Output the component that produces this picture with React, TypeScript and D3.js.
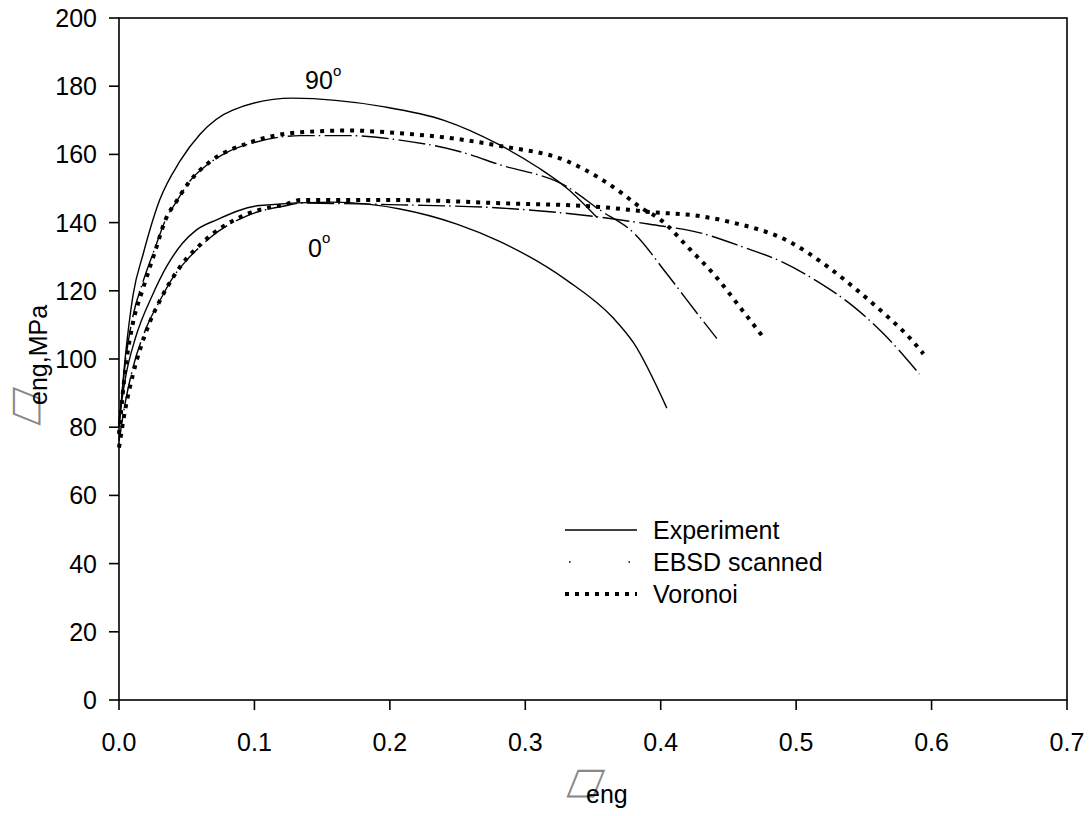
import React from 'react'
import * as d3 from 'd3'

// axis ticks
const xTicks = [0, 0.1, 0.2, 0.3, 0.4, 0.5, 0.6, 0.7]
const yTicks = [0, 20, 40, 60, 80, 100, 120, 140, 160, 180, 200]

// [strain, stress MPa]
const exp90: [number, number][] = [
  [0, 80], [0.004, 98], [0.0105, 119], [0.018, 131], [0.03, 146.6], [0.045, 158],
  [0.06, 166], [0.084, 173], [0.128, 176.5], [0.195, 174], [0.24, 170], [0.28, 163],
  [0.31, 156], [0.331, 150], [0.353, 141.5]
]
const exp0: [number, number][] = [
  [0, 82], [0.005, 95], [0.012, 106], [0.025, 119], [0.035, 127], [0.047, 134],
  [0.057, 137.8], [0.072, 140.8], [0.104, 145], [0.158, 146], [0.2075, 144],
  [0.25, 139.5], [0.281, 134.5], [0.331, 123], [0.365, 112], [0.38, 104.7], [0.4045, 85.6]
]
const ebsd90: [number, number][] = [
  [0, 80], [0.005, 100], [0.01, 112], [0.018, 123], [0.027, 133], [0.034, 140.5],
  [0.043, 146.5], [0.052, 152], [0.067, 157.5], [0.08, 160.7], [0.1, 163.5],
  [0.134, 165.5], [0.17, 165.5], [0.2075, 164.2], [0.25, 161], [0.281, 157],
  [0.331, 150.5], [0.355, 143.7], [0.38, 137], [0.4045, 125], [0.429, 112.3], [0.4415, 106]
]
const vor90: [number, number][] = [
  [0, 78], [0.005, 98], [0.01, 110], [0.018, 121], [0.027, 132], [0.034, 140.5],
  [0.043, 146.6], [0.052, 152], [0.067, 157.8], [0.0945, 163.2], [0.134, 166.5],
  [0.17, 167], [0.2075, 166.2], [0.25, 164.5], [0.281, 162.5], [0.331, 158],
  [0.355, 153], [0.37, 149], [0.385, 144.5], [0.4, 140.8], [0.4215, 132.2],
  [0.4415, 123.8], [0.4585, 115.2], [0.4755, 106.5]
]
const ebsd0: [number, number][] = [
  [0, 76], [0.005, 88], [0.01, 97], [0.02, 109], [0.03, 117], [0.04, 124], [0.05, 129],
  [0.06, 133], [0.067, 135.5], [0.0945, 142], [0.124, 145], [0.134, 145.7],
  [0.2075, 145.2], [0.281, 144.3], [0.355, 141.6], [0.392, 139.5], [0.429, 137],
  [0.461, 132.8], [0.49, 128.4], [0.515, 122.9], [0.542, 115.5], [0.564, 107.6], [0.591, 95.6]
]
const vor0: [number, number][] = [
  [0, 74], [0.005, 86], [0.01, 95], [0.02, 108], [0.03, 117], [0.04, 124], [0.05, 129.5],
  [0.06, 133.5], [0.067, 136], [0.0945, 142.5], [0.124, 145.5], [0.134, 146.6],
  [0.2075, 146.6], [0.281, 145.7], [0.355, 144.6], [0.392, 143.1], [0.429, 141.9],
  [0.451, 140.2], [0.4955, 134.3], [0.5235, 127], [0.545, 120.2], [0.567, 112.6],
  [0.582, 107], [0.594, 101.5]
]

const legendNames = ['Experiment', 'EBSD scanned', 'Voronoi']

const styles = {
  Experiment: { width: 1.4, dash: 'none' },
  'EBSD scanned': { width: 1.4, dash: '27 4 1.5 4.5' },
  Voronoi: { width: 4, dash: '4 6' }
}

const series = [
  { kind: 'Experiment', data: exp90 },
  { kind: 'Experiment', data: exp0 },
  { kind: 'EBSD scanned', data: ebsd90 },
  { kind: 'EBSD scanned', data: ebsd0 },
  { kind: 'Voronoi', data: vor90 },
  { kind: 'Voronoi', data: vor0 }
]

const W = 1089
const H = 816
const left = 119, right = 1067, top = 18, bottom = 700
const font = '"Liberation Sans", Arial, sans-serif'

export default function App() {
  const x = d3.scaleLinear().domain([0, 0.7]).range([left, right])
  const y = d3.scaleLinear().domain([0, 200]).range([bottom, top])
  const line = d3.line<[number, number]>()
    .x(d => x(d[0]))
    .y(d => y(d[1]))
    .curve(d3.curveMonotoneX)

  return (
    <svg width={W} height={H} style={{ position: 'absolute', left: 0, top: 0, background: '#fff' }}
      fontFamily={font} fontSize={25}>
      <rect x={left} y={top} width={right - left} height={bottom - top}
        fill="none" stroke="#000" strokeWidth={1.6} />

      {yTicks.map(t => (
        <g key={'y' + t}>
          <line x1={left - 10} x2={left} y1={y(t)} y2={y(t)} stroke="#000" strokeWidth={1.6} />
          <text x={left - 22} y={y(t)} dy="0.36em" textAnchor="end">{t}</text>
        </g>
      ))}
      {xTicks.map(t => (
        <g key={'x' + t}>
          <line x1={x(t)} x2={x(t)} y1={bottom} y2={bottom + 10} stroke="#000" strokeWidth={1.6} />
          <text x={x(t)} y={bottom + 51} textAnchor="middle">{d3.format('.1f')(t)}</text>
        </g>
      ))}

      {series.map((s, i) => {
        const st = styles[s.kind as keyof typeof styles]
        return (
          <path key={i} d={line(s.data) || ''} fill="none" stroke="#000"
            strokeWidth={st.width} strokeDasharray={st.dash} />
        )
      })}

      {/* curve labels */}
      <text x={305} y={89}>90</text>
      <text x={333} y={76} fontSize={15}>o</text>
      <text x={308} y={257}>0</text>
      <text x={322} y={243} fontSize={15}>o</text>

      {/* legend */}
      {legendNames.map((name, i) => {
        const st = styles[name as keyof typeof styles]
        const ly = 530 + i * 32
        return (
          <g key={name}>
            <line x1={565} x2={637} y1={ly} y2={ly} stroke="#000" strokeWidth={st.width}
              strokeDasharray={name === 'EBSD scanned' ? '1.5 58' : st.dash}
              strokeDashoffset={name === 'EBSD scanned' ? -4 : 0} />
            <text x={653} y={ly} dy="0.36em">{name}</text>
          </g>
        )
      })}

      {/* axis titles */}
      <g transform="translate(565,793) skewX(-22)">
        <text x={0} y={0} fontFamily="DejaVu Sans" fontSize={36} fill="#888">□</text>
      </g>
      <text x={586} y={803}>eng</text>

      <g transform="translate(36,427) rotate(-90)">
        <g transform="skewX(-22)">
          <text x={0} y={0} fontFamily="DejaVu Sans" fontSize={36} fill="#888">□</text>
        </g>
        <text x={22} y={11}>eng,MPa</text>
      </g>
    </svg>
  )
}
